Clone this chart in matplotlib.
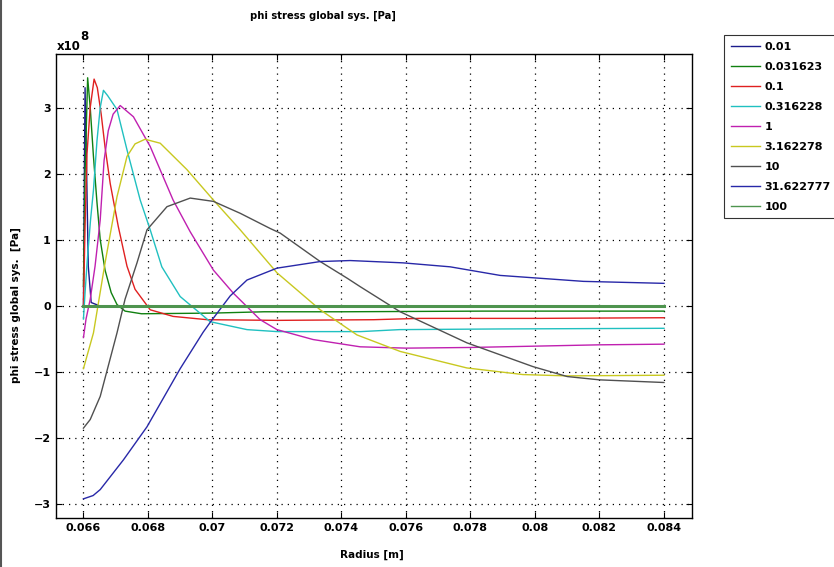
import matplotlib
matplotlib.use("Agg")
import numpy as np
import matplotlib.pyplot as plt
from matplotlib.lines import Line2D

# stress values in units of 1e8 Pa, radius in m
labels = ["0.01", "0.031623", "0.1", "0.316228", "1", "3.162278", "10", "31.622777", "100"]
colors = ["#1c1c8c", "#108010", "#e02020", "#20c0c0", "#c020b0",
          "#c8c820", "#505050", "#2828a8", "#4e944e"]

x_001 = [0.066, 0.06602, 0.06605, 0.0661, 0.06615, 0.06624, 0.0665, 0.084]
y_001 = [0.0, 1.5, 3.3, 2.0, 0.6, 0.05, 0.0, 0.0]

x_0031 = [0.066, 0.06605, 0.06613, 0.06621, 0.06631, 0.06642, 0.06652, 0.06667, 0.06686,
          0.06704, 0.06729, 0.0678, 0.0700, 0.0716, 0.0740, 0.0784, 0.084]
y_0031 = [0.3, 2.0, 3.45, 3.0, 2.26, 1.56, 1.0, 0.54, 0.2,
          0.02, -0.08, -0.12, -0.11, -0.09, -0.09, -0.08, -0.08]

x_01 = [0.066, 0.06605, 0.06611, 0.06621, 0.06633, 0.06643, 0.06655, 0.06667, 0.06683, 0.06708,
        0.06735, 0.0676, 0.06807, 0.06878, 0.06984, 0.0720, 0.0750, 0.0764, 0.0800, 0.084]
y_01 = [0.0, 1.2, 2.3, 3.0, 3.43, 3.3, 2.9, 2.4, 1.85, 1.2,
        0.6, 0.25, -0.06, -0.16, -0.21, -0.22, -0.21, -0.19, -0.19, -0.18]

x_03 = [0.066, 0.06605, 0.06612, 0.06622, 0.06631, 0.06642, 0.06652, 0.06662, 0.06675, 0.06704,
        0.06735, 0.06776, 0.06807, 0.06843, 0.0690, 0.06993, 0.07107, 0.0720, 0.0746, 0.0758,
        0.0789, 0.084]
y_03 = [-0.2, 0.2, 0.7, 1.3, 1.75, 2.5, 3.0, 3.26, 3.18, 2.97,
        2.36, 1.6, 1.15, 0.59, 0.14, -0.24, -0.36, -0.39, -0.39, -0.36,
        -0.35, -0.34]

x_1 = [0.066, 0.06608, 0.06621, 0.06636, 0.06652, 0.06664, 0.06677, 0.06692, 0.06714, 0.06755,
       0.06807, 0.06878, 0.06931, 0.07003, 0.07065, 0.07148, 0.072, 0.07312, 0.07458, 0.0760,
       0.0780, 0.0800, 0.0820, 0.084]
y_1 = [-0.48, -0.2, 0.1, 0.6, 1.3, 2.2, 2.65, 2.9, 3.03, 2.86,
       2.41, 1.6, 1.12, 0.54, 0.19, -0.21, -0.36, -0.51, -0.62, -0.64,
       -0.63, -0.61, -0.59, -0.58]

x_3 = [0.066, 0.06631, 0.06667, 0.06704, 0.06735, 0.0676, 0.06791, 0.06838, 0.06921, 0.07003,
       0.07086, 0.0720, 0.07334, 0.07448, 0.07582, 0.07789, 0.07963, 0.081, 0.084]
y_3 = [-0.95, -0.41, 0.65, 1.65, 2.26, 2.45, 2.52, 2.46, 2.06, 1.6,
       1.15, 0.5, -0.06, -0.44, -0.69, -0.94, -1.04, -1.06, -1.05]

x_10 = [0.066, 0.06621, 0.06652, 0.06704, 0.06729, 0.06766, 0.06797, 0.06859, 0.06931, 0.07003,
        0.07086, 0.07179, 0.0721, 0.07334, 0.07417, 0.07458, 0.07582, 0.07789, 0.07994, 0.081,
        0.0820, 0.084]
y_10 = [-1.85, -1.72, -1.37, -0.41, 0.1, 0.65, 1.15, 1.5, 1.63, 1.58,
        1.4, 1.17, 1.1, 0.67, 0.42, 0.29, -0.09, -0.56, -0.92, -1.07,
        -1.12, -1.16]

x_31 = [0.066, 0.0663, 0.06652, 0.06724, 0.06797, 0.069, 0.06971, 0.06993, 0.07055, 0.07107,
        0.072, 0.07334, 0.07427, 0.07591, 0.07737, 0.07892, 0.0815, 0.084]
y_31 = [-2.92, -2.87, -2.78, -2.33, -1.83, -0.95, -0.4, -0.25, 0.15, 0.39,
        0.57, 0.67, 0.685, 0.65, 0.59, 0.46, 0.37, 0.34]

x_100 = [0.066, 0.084]
y_100 = [0.0, 0.0]

xs = [x_001, x_0031, x_01, x_03, x_1, x_3, x_10, x_31, x_100]
ys = [y_001, y_0031, y_01, y_03, y_1, y_3, y_10, y_31, y_100]

xticks = [0.066, 0.068, 0.07, 0.072, 0.074, 0.076, 0.078, 0.08, 0.082, 0.084]
xticklabels = ["0.066", "0.068", "0.07", "0.072", "0.074", "0.076", "0.078", "0.08", "0.082", "0.084"]
yticks = [-3, -2, -1, 0, 1, 2, 3]

fig = plt.figure(figsize=(8.34, 5.67), dpi=100)
ax = fig.add_axes([0.0668, 0.0864, 0.763, 0.8184])

handles = []
for i in range(len(labels)):
    lw = 2.2 if labels[i] == "100" else 1.0
    h, = ax.plot(xs[i], ys[i], color=colors[i], lw=lw, label=labels[i])
    handles.append(h)

ax.set_xlim(0.06514, 0.08487)
ax.set_ylim(-3.21, 3.81)
ax.set_xticks(xticks)
ax.set_xticklabels(xticklabels)
ax.set_yticks(yticks)
ax.grid(True, color="black", linestyle=(0, (1, 4)), linewidth=0.9)
ax.tick_params(direction="in", length=4, right=True, top=True, labelsize=8)
for lab in ax.get_xticklabels() + ax.get_yticklabels():
    lab.set_fontweight("bold")
for sp in ax.spines.values():
    sp.set_linewidth(1.0)

fig.text(323 / 834, 1 - 16 / 567, "phi stress global sys. [Pa]", ha="center", va="center",
         fontsize=7.2, fontweight="bold")
fig.text(372 / 834, 1 - 555 / 567, "Radius [m]", ha="center", va="center",
         fontsize=7.5, fontweight="bold")
fig.text(16 / 834, 1 - 305 / 567, "phi stress global sys.  [Pa]", ha="center", va="center",
         rotation=90, fontsize=7.5, fontweight="bold")
fig.text(57 / 834, 1 - 46 / 567, "x10", ha="left", va="center", fontsize=8.5, fontweight="bold")
fig.text(80 / 834, 1 - 36 / 567, "8", ha="left", va="center", fontsize=8.5, fontweight="bold")

leg = fig.legend(handles=handles, loc="upper left", bbox_to_anchor=(724 / 834, 1 - 35 / 567),
                 frameon=True, fancybox=False, edgecolor="black", borderpad=0.6,
                 borderaxespad=0, handlelength=2.6, handletextpad=0.45, labelspacing=0.9,
                 prop={"size": 8, "weight": "bold"})
leg.get_frame().set_linewidth(0.8)
for l in leg.get_lines():
    l.set_linewidth(1.0)

fig.add_artist(Line2D([0.001, 0.001], [0, 1], color="#555555", lw=1.5))

fig.savefig("out.png", dpi=100)
